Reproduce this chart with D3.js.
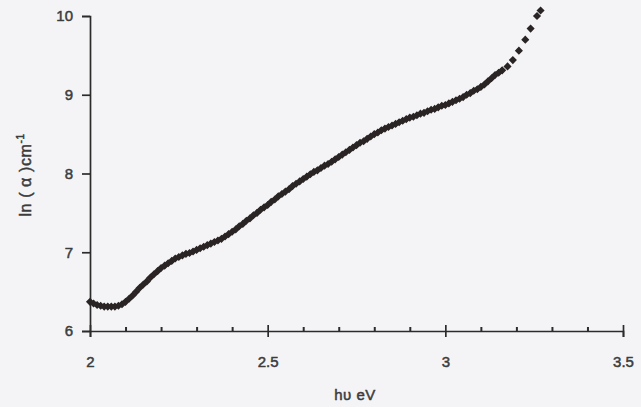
<!DOCTYPE html>
<html><head><meta charset="utf-8">
<script src="https://cdn.jsdelivr.net/npm/d3@7"></script>
<style>
html,body{margin:0;padding:0;background:#f4f4f7;}
svg{display:block;}
text{font-family:"Liberation Sans",Arial,sans-serif;}
</style></head>
<body>
<svg id="chart" width="641" height="407"></svg>
<script>
// photon energy hν (eV)
const energy = [
2.00,2.01,2.02,2.03,2.04,2.05,2.06,2.07,2.08,2.09,
2.10,2.11,2.12,2.13,2.14,2.15,2.16,2.17,2.18,2.19,
2.20,2.21,2.22,2.23,2.24,2.25,2.26,2.27,2.28,2.29,
2.30,2.31,2.32,2.33,2.34,2.35,2.36,2.37,2.38,2.39,
2.40,2.41,2.42,2.43,2.44,2.45,2.46,2.47,2.48,2.49,
2.50,2.51,2.52,2.53,2.54,2.55,2.56,2.57,2.58,2.59,
2.60,2.61,2.62,2.63,2.64,2.65,2.66,2.67,2.68,2.69,
2.70,2.71,2.72,2.73,2.74,2.75,2.76,2.77,2.78,2.79,
2.80,2.81,2.82,2.83,2.84,2.85,2.86,2.87,2.88,2.89,
2.90,2.91,2.92,2.93,2.94,2.95,2.96,2.97,2.98,2.99,
3.00,3.01,3.02,3.03,3.04,3.05,3.06,3.07,3.08,3.09,
3.10,3.11,3.12,3.13,3.14,3.15,3.16,3.175,3.19,3.207,
3.225,3.24,3.258,3.268
];
// ln(alpha) (cm^-1)
const lnAlpha = [
6.37,6.35,6.33,6.32,6.31,6.31,6.31,6.31,6.32,6.34,
6.37,6.41,6.45,6.50,6.55,6.59,6.63,6.68,6.72,6.76,
6.80,6.83,6.86,6.89,6.92,6.94,6.96,6.98,6.99,7.01,
7.03,7.05,7.07,7.09,7.11,7.13,7.15,7.17,7.20,7.23,
7.26,7.29,7.33,7.36,7.40,7.43,7.47,7.50,7.54,7.57,
7.60,7.64,7.67,7.71,7.74,7.77,7.80,7.84,7.87,7.90,
7.93,7.96,7.99,8.02,8.04,8.07,8.10,8.12,8.15,8.18,
8.21,8.24,8.27,8.30,8.33,8.36,8.39,8.41,8.44,8.47,
8.50,8.52,8.55,8.57,8.59,8.61,8.63,8.65,8.67,8.69,
8.71,8.72,8.74,8.76,8.77,8.79,8.81,8.82,8.84,8.86,
8.87,8.89,8.91,8.93,8.95,8.97,9.00,9.02,9.05,9.07,
9.10,9.13,9.17,9.21,9.25,9.28,9.31,9.36,9.44,9.56,
9.70,9.84,10.00,10.07
];
const xMajorTicks = [2, 2.5, 3, 3.5];
const xMinorTicks = [2.1,2.2,2.3,2.4,2.6,2.7,2.8,2.9,3.1,3.2,3.3,3.4];
const yTicks = [6, 7, 8, 9, 10];
const xTitle = "h\u03c5  eV";
const yTitle = "ln ( \u03b1 )cm";

(function () {
const svg = d3.select("#chart");
const mL = 90, mR = 623, mT = 16, mB = 331;
const x = d3.scaleLinear().domain([2, 3.5]).range([mL, mR]);
const y = d3.scaleLinear().domain([6, 10]).range([mB, mT]);
const ink = "#2b2b2b";
const txt = "#3c3c3c";

// y axis
svg.append("g").attr("transform", `translate(${mL},0)`)
  .call(d3.axisLeft(y).tickValues(yTicks).tickSize(8).tickPadding(9).tickFormat(d3.format("d")));
// x axis major
const xAxis = svg.append("g").attr("transform", `translate(0,${mB})`)
  .call(d3.axisBottom(x).tickValues(xMajorTicks).tickSize(6).tickPadding(19).tickFormat(d => d));
xAxis.selectAll(".tick line").attr("y1", -6);
// minor ticks above the axis
svg.append("g").attr("class", "minor").attr("transform", `translate(0,${mB})`)
  .call(d3.axisBottom(x).tickValues(xMinorTicks).tickSize(-4).tickFormat(""))
  .select(".domain").remove();

svg.selectAll(".domain").attr("stroke", ink).attr("stroke-width", 1.7);
svg.selectAll(".tick line").attr("stroke", ink).attr("stroke-width", 1.7);
svg.selectAll(".minor .tick line").attr("stroke-width", 2);
svg.selectAll(".tick text").attr("fill", txt).attr("font-size", 15)
  .attr("stroke", txt).attr("stroke-width", 0.5);

// titles
svg.append("text").attr("x", 355).attr("y", 400).attr("text-anchor", "middle")
  .attr("font-size", 15).attr("fill", txt).attr("stroke", txt).attr("stroke-width", 0.5)
  .attr("letter-spacing", 0.5).text(xTitle);
const yt = svg.append("text").attr("transform", "translate(31,175) rotate(-90)")
  .attr("text-anchor", "middle").attr("font-size", 16).attr("fill", txt)
  .attr("stroke", txt).attr("stroke-width", 0.5).attr("letter-spacing", 0.6);
yt.append("tspan").text(yTitle);
yt.append("tspan").attr("dy", -7).attr("font-size", 10).text("-1");

// data markers
const pts = energy.map((e, i) => [e, lnAlpha[i]]);
const sym = d3.symbol().type(d3.symbolSquare).size(18);
svg.append("g").selectAll("path").data(pts).join("path")
  .attr("d", sym)
  .attr("transform", d => `translate(${x(d[0])},${y(d[1])}) rotate(45)`)
  .attr("fill", "#2a2424").attr("stroke", "#2a2424").attr("stroke-width", 1.5);
})();
</script>
</body></html>
